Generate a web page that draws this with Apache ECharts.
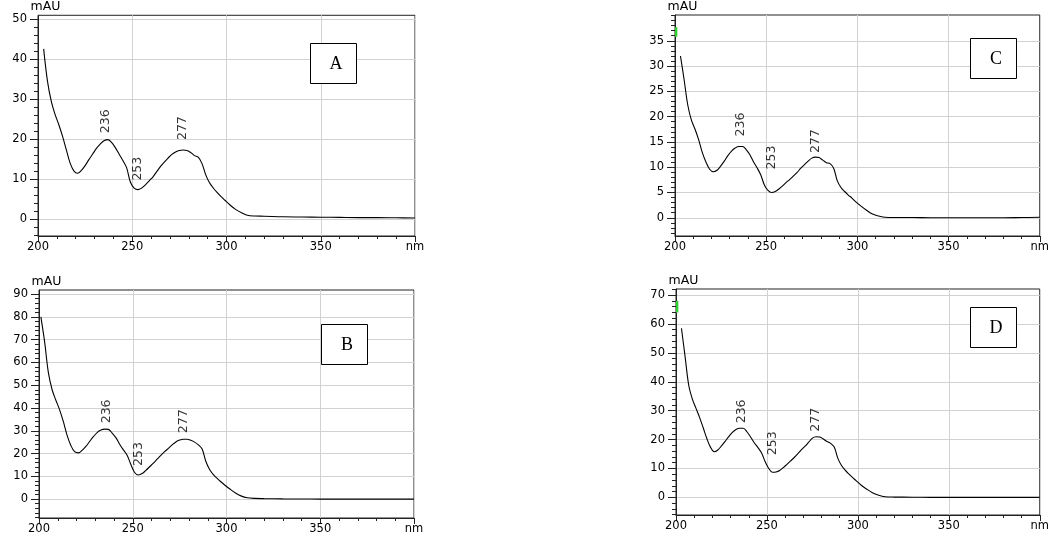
<!DOCTYPE html>
<html>
<head>
<meta charset="utf-8">
<script src="https://cdn.jsdelivr.net/npm/echarts@6/dist/echarts.min.js"></script>
<style>
  html, body { margin: 0; padding: 0; background: #fff; }
  #chart { width: 1052px; height: 538px; }
</style>
</head>
<body>
<div id="chart"></div>
<script>
// Wavelength samples (nm) shared by the four UV spectra
const wavelengths = [201, 203, 205, 207, 209, 211, 213, 215, 217, 219, 221, 223, 225, 227, 229, 231, 233, 235, 237, 239,
  241, 243, 245, 247, 249, 251, 253, 255, 257, 259, 261, 263, 265, 267, 269, 271, 273, 275, 277, 279,
  281, 283, 285, 287, 289, 291, 293, 295, 297, 299, 302, 305, 308, 311, 315, 320, 330, 340, 350, 360,
  370, 380, 390, 400];

// Absorbance (mAU) of each sample
const absA = [null, 42.5, 34.5, 29.5, 26.2, 23.6, 20.7, 17.3, 14.0, 12.0, 11.4, 12.1, 13.3, 14.8, 16.2, 17.6, 18.7, 19.5, 19.8, 19.1,
  17.8, 16.2, 14.6, 12.8, 9.2, 7.7, 7.3, 7.7, 8.5, 9.5, 10.5, 11.8, 13.1, 14.2, 15.2, 16.1, 16.7, 17.1, 17.2, 17.1,
  16.6, 15.8, 15.4, 13.8, 11.0, 9.0, 7.7, 6.6, 5.6, 4.7, 3.4, 2.3, 1.5, 0.9, 0.7, 0.65, 0.5, 0.45, 0.4, 0.35,
  0.3, 0.3, 0.25, 0.2];
const absB = [80.0, 69.0, 55.5, 48.0, 43.4, 39.2, 34.0, 28.0, 23.5, 20.8, 20.3, 21.4, 23.1, 25.3, 27.4, 29.2, 30.3, 30.7, 30.6, 29.0,
  27.0, 24.1, 21.6, 19.3, 15.2, 11.7, 10.6, 11.2, 12.6, 14.2, 15.8, 17.5, 19.2, 20.8, 22.3, 23.8, 25.1, 25.9, 26.3, 26.3,
  25.8, 25.0, 23.8, 22.0, 16.5, 13.0, 10.7, 9.1, 7.6, 6.2, 4.3, 2.6, 1.3, 0.6, 0.3, 0.2, 0.1, 0.05, 0, 0,
  0, 0, 0, 0];
const absC = [null, 32.0, 27.3, 22.3, 19.3, 17.5, 15.4, 12.9, 11.0, 9.6, 9.1, 9.4, 10.2, 11.2, 12.3, 13.2, 13.8, 14.1, 14.1, 13.5,
  12.5, 11.1, 9.9, 8.5, 6.5, 5.4, 5.0, 5.2, 5.7, 6.3, 7.0, 7.6, 8.3, 9.0, 9.8, 10.5, 11.2, 11.8, 12.0, 11.9,
  11.4, 10.9, 10.7, 9.8, 7.3, 6.0, 5.2, 4.5, 3.9, 3.2, 2.3, 1.5, 0.8, 0.4, 0.1, 0.05, 0.05, 0, 0, 0,
  0, 0, 0.05, 0.1];
const absD = [null, 58.5, 48.7, 38.8, 34.0, 30.8, 27.6, 24.0, 20.3, 17.3, 15.8, 16.4, 17.8, 19.4, 21.0, 22.5, 23.5, 23.9, 23.9, 22.7,
  20.9, 18.9, 17.3, 15.4, 12.4, 10.0, 8.7, 8.8, 9.3, 10.3, 11.4, 12.6, 13.8, 15.1, 16.5, 17.7, 19.1, 20.5, 21.0, 20.9,
  20.2, 19.3, 18.7, 17.4, 13.5, 11.0, 9.4, 8.1, 6.9, 5.8, 4.1, 2.8, 1.6, 0.8, 0.2, 0.1, 0.05, 0, 0, 0,
  0, 0, 0, 0];

// Marked wavelengths (nm)
const peakWavelengths = [236, 253, 277];

// Axis ticks
const xTickValues = [200, 250, 300, 350, 400];
const yTicksA = [0, 10, 20, 30, 40, 50];
const yTicksB = [0, 10, 20, 30, 40, 50, 60, 70, 80, 90];
const yTicksC = [0, 5, 10, 15, 20, 25, 30, 35];
const yTicksD = [0, 10, 20, 30, 40, 50, 60, 70];

const panelLetters = ['A', 'B', 'C', 'D'];

function range(from, to, step) {
  const out = [];
  for (let v = from; v <= to + 1e-9; v += step) out.push(Math.round(v * 100) / 100);
  return out;
}

function valueAt(vals, w) {
  for (let k = 0; k < wavelengths.length - 1; k++) {
    const w0 = wavelengths[k], w1 = wavelengths[k + 1];
    if (w >= w0 && w <= w1 && vals[k] != null && vals[k + 1] != null) {
      return vals[k] + (vals[k + 1] - vals[k]) * (w - w0) / (w1 - w0);
    }
  }
  return 0;
}

// Layout and styling of each panel
const panels = [
  { letter: panelLetters[0], values: absA, grid: { left: 38, top: 15, width: 377, height: 221 },
    yMin: -4.3, yMax: 50.9, major: yTicksA, minorStep: 2,
    box: { x: 310, y: 43 }, gaps: [7, 9, 10], flag: null },
  { letter: panelLetters[1], values: absB, grid: { left: 39, top: 290, width: 375, height: 228 },
    yMin: -8.3, yMax: 91.8, major: yTicksB, minorStep: 2,
    box: { x: 321, y: 324 }, gaps: [6, 9, 6], flag: null },
  { letter: panelLetters[2], values: absC, grid: { left: 675, top: 15, width: 375, height: 221 },
    yMin: -3.6, yMax: 40.1, major: yTicksC, minorStep: 1,
    box: { x: 970, y: 38 }, gaps: [10, 23, 4], flag: [35.8, 37.7] },
  { letter: panelLetters[3], values: absD, grid: { left: 676, top: 289, width: 374, height: 226 },
    yMin: -6.1, yMax: 72.1, major: yTicksD, minorStep: 2,
    box: { x: 970, y: 307 }, gaps: [5, 17, 5], flag: [64, 68] }
];

const AXIS_COLOR = '#222';
const GRID_COLOR = '#d2d2d2';
const TEXT_COLOR = '#000';
const TICK_FONT = 'DejaVu Sans';

const grids = [], xAxes = [], yAxes = [], series = [], graphics = [];

panels.forEach((p, i) => {
  grids.push(Object.assign({
    show: true, borderColor: AXIS_COLOR, borderWidth: 1, backgroundColor: 'transparent'
  }, p.grid));

  xAxes.push({
    type: 'value', gridIndex: i, min: 200, max: 400, interval: 50,
    axisLine: { show: true, onZero: false, lineStyle: { color: AXIS_COLOR, width: 1 } },
    axisTick: { show: true, length: 6, lineStyle: { color: AXIS_COLOR } },
    minorTick: { show: true, splitNumber: 5, length: 3, lineStyle: { color: AXIS_COLOR } },
    axisLabel: {
      show: true, margin: 5, fontSize: 11.5, color: TEXT_COLOR, fontFamily: TICK_FONT,
      showMinLabel: true, showMaxLabel: true,
      formatter: v => (v === xTickValues[xTickValues.length - 1] ? 'nm' : String(v))
    },
    splitLine: { show: true, lineStyle: { color: GRID_COLOR, width: 1 } }
  });

  // major ticks, labels and horizontal grid lines
  yAxes.push({
    type: 'value', gridIndex: i, position: 'left', min: p.yMin, max: p.yMax,
    name: 'mAU', nameLocation: 'end', nameGap: 2,
    nameTextStyle: { fontSize: 12.5, color: TEXT_COLOR, fontFamily: TICK_FONT, align: 'center', padding: [0, 0, 0, 15] },
    axisLine: { show: true, onZero: false, lineStyle: { color: AXIS_COLOR, width: 1 } },
    axisTick: { show: true, length: 8, customValues: p.major, lineStyle: { color: AXIS_COLOR } },
    axisLabel: { show: true, customValues: p.major, margin: 11, fontSize: 11.5, color: TEXT_COLOR, fontFamily: TICK_FONT },
    splitLine: { show: true, lineStyle: { color: GRID_COLOR, width: 1 } }
  });
  // minor ticks
  const lo = Math.ceil(p.yMin / p.minorStep) * p.minorStep;
  yAxes.push({
    type: 'value', gridIndex: i, position: 'left', offset: 0, min: p.yMin, max: p.yMax,
    axisLine: { show: false },
    axisTick: { show: true, length: 4, customValues: range(lo, p.yMax, p.minorStep), lineStyle: { color: AXIS_COLOR } },
    axisLabel: { show: false },
    splitLine: { show: false }
  });

  const lineSeries = {
    type: 'line', xAxisIndex: i, yAxisIndex: 2 * i,
    data: wavelengths.map((w, k) => [w, p.values[k]]).filter(d => d[1] != null),
    symbol: 'none', smooth: 0.35, silent: true,
    lineStyle: { color: '#000', width: 1.1 },
    z: 3
  };
  if (p.flag) {
    lineSeries.markArea = {
      silent: true,
      itemStyle: { color: '#2fd12f', opacity: 1 },
      data: [[{ coord: [200, p.flag[0]] }, { coord: [201.3, p.flag[1]] }]]
    };
  }
  series.push(lineSeries);

  series.push({
    type: 'scatter', xAxisIndex: i, yAxisIndex: 2 * i, symbolSize: 0, silent: true, z: 4,
    data: peakWavelengths.map((w, k) => ({
      value: [w, valueAt(p.values, w)],
      label: { distance: p.gaps[k] }
    })),
    label: {
      show: true, position: 'top', rotate: 90, align: 'left', verticalAlign: 'middle',
      fontSize: 12.5, color: TEXT_COLOR, fontFamily: TICK_FONT,
      formatter: d => String(d.value[0])
    }
  });

  graphics.push({
    type: 'rect', z: 10,
    shape: { x: p.box.x + 0.5, y: p.box.y + 0.5, width: 46, height: 40 },
    style: { fill: '#fff', stroke: '#000', lineWidth: 1 }
  });
  graphics.push({
    type: 'text', z: 11,
    x: p.box.x + 26, y: p.box.y + 21,
    style: { text: p.letter, font: '18px "Liberation Serif", "Times New Roman", serif', fill: '#000',
      align: 'center', verticalAlign: 'middle' }
  });
});

const chart = echarts.init(document.getElementById('chart'), null, { renderer: 'canvas' });
chart.setOption({
  animation: false,
  backgroundColor: '#fff',
  grid: grids,
  xAxis: xAxes,
  yAxis: yAxes,
  series: series,
  graphic: { elements: graphics }
});
</script>
</body>
</html>
